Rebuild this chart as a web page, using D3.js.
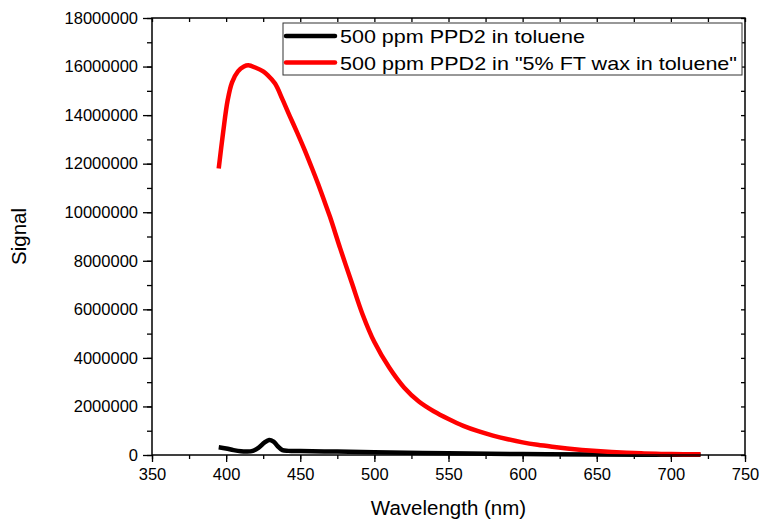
<!DOCTYPE html>
<html>
<head>
<meta charset="utf-8">
<script src="https://cdn.jsdelivr.net/npm/d3@7"></script>
<style>
  body { margin: 0; background: #fff; }
  svg { display: block; font-family: Arial, "Liberation Sans", sans-serif; }
</style>
</head>
<body>
<div id="chart"></div>
<script>
// Wavelength (nm) and signal values
const redWavelength = [395, 398, 401, 404, 408, 412, 415, 420, 425, 428, 433, 438, 443, 448, 453, 458, 462, 466, 470, 477, 485, 492, 500, 510, 520, 530, 540, 550, 560, 570, 580, 590, 600, 610, 620, 630, 640, 650, 660, 670, 680, 690, 700, 710, 720];
const redSignal = [11.8e6, 13.3e6, 14.6e6, 15.35e6, 15.8e6, 16.0e6, 16.05e6, 15.95e6, 15.8e6, 15.65e6, 15.3e6, 14.65e6, 13.95e6, 13.27e6, 12.56e6, 11.8e6, 11.17e6, 10.5e6, 9.82e6, 8.5e6, 7.05e6, 5.8e6, 4.65e6, 3.6e6, 2.78e6, 2.2e6, 1.8e6, 1.48e6, 1.2e6, 0.98e6, 0.8e6, 0.65e6, 0.52e6, 0.42e6, 0.34e6, 0.27e6, 0.21e6, 0.16e6, 0.12e6, 0.09e6, 0.07e6, 0.05e6, 0.04e6, 0.03e6, 0.03e6];

const blackWavelength = [395, 400, 405, 410, 414, 418, 422, 426, 429, 432, 435, 438, 442, 450, 475, 500, 550, 600, 650, 720];
const blackSignal = [0.32e6, 0.27e6, 0.2e6, 0.15e6, 0.14e6, 0.17e6, 0.3e6, 0.52e6, 0.62e6, 0.55e6, 0.35e6, 0.2e6, 0.17e6, 0.16e6, 0.14e6, 0.11e6, 0.07e6, 0.04e6, 0.02e6, 0.01e6];

const seriesNames = ['500 ppm PPD2 in toluene', '500 ppm PPD2 in "5% FT wax in toluene"'];
const seriesColors = ['#000000', '#ff0000'];

const xMajor = d3.range(350, 751, 50);
const xMinor = d3.range(350, 751, 25);
const yMajor = d3.range(0, 18000001, 2000000);
const yMinor = d3.range(0, 18000001, 1000000);

const width = 760, height = 523;
const margin = { top: 18, right: 15, bottom: 68, left: 152 };

const svg = d3.select('#chart').append('svg')
  .attr('width', width)
  .attr('height', height);

const x = d3.scaleLinear().domain([350, 750]).range([margin.left, width - margin.right]);
const y = d3.scaleLinear().domain([0, 18000000]).range([height - margin.bottom, margin.top]);

const x0 = margin.left, x1 = width - margin.right;
const y0 = height - margin.bottom, y1 = margin.top;

// lines
const toPoints = (xs, ys) => xs.map((d, i) => ({ w: d, s: ys[i] }));
const line = d3.line().x(d => x(d.w)).y(d => y(d.s)).curve(d3.curveCatmullRom.alpha(0.5));

svg.append('path')
  .datum(toPoints(blackWavelength, blackSignal))
  .attr('fill', 'none')
  .attr('stroke', seriesColors[0])
  .attr('stroke-width', 4.5)
  .attr('stroke-linejoin', 'round')
  .attr('d', line);

svg.append('path')
  .datum(toPoints(redWavelength, redSignal))
  .attr('fill', 'none')
  .attr('stroke', seriesColors[1])
  .attr('stroke-width', 4.5)
  .attr('stroke-linejoin', 'round')
  .attr('d', line);

// axes
const styleAxis = g => {
  g.select('.domain').remove();
  g.selectAll('.tick line').attr('stroke', '#000').attr('stroke-width', 1.3);
  g.selectAll('text').attr('fill', '#000').attr('font-size', 16.5)
    .attr('font-family', 'Arial, "Liberation Sans", sans-serif');
};

svg.append('g').attr('transform', `translate(0,${y0})`)
  .call(d3.axisBottom(x).tickValues(xMinor).tickSize(4).tickFormat(''))
  .call(styleAxis);
svg.append('g').attr('transform', `translate(0,${y0})`)
  .call(d3.axisBottom(x).tickValues(xMajor).tickSize(7).tickPadding(6).tickFormat(d3.format('d')))
  .call(styleAxis);

svg.append('g').attr('transform', `translate(${x0},0)`)
  .call(d3.axisLeft(y).tickValues(yMinor).tickSize(5).tickFormat(''))
  .call(styleAxis);
svg.append('g').attr('transform', `translate(${x0},0)`)
  .call(d3.axisLeft(y).tickValues(yMajor).tickSize(9).tickPadding(5).tickFormat(d3.format('d')))
  .call(styleAxis);

// top and right: inward ticks
svg.append('g').attr('transform', `translate(0,${y1})`)
  .call(d3.axisBottom(x).tickValues(xMinor).tickSize(4).tickFormat(''))
  .call(styleAxis);
svg.append('g').attr('transform', `translate(${x1},0)`)
  .call(d3.axisLeft(y).tickValues(yMinor).tickSize(4).tickFormat(''))
  .call(styleAxis);

// frame
svg.append('rect')
  .attr('x', x0).attr('y', y1)
  .attr('width', x1 - x0).attr('height', y0 - y1)
  .attr('fill', 'none')
  .attr('stroke', '#000')
  .attr('stroke-width', 1.5);

// axis titles
svg.append('text')
  .attr('x', (x0 + x1) / 2)
  .attr('y', 515)
  .attr('text-anchor', 'middle')
  .attr('font-size', 20.5)
  .text('Wavelength (nm)');

svg.append('text')
  .attr('transform', `translate(26,${(y0 + y1) / 2}) rotate(-90)`)
  .attr('text-anchor', 'middle')
  .attr('font-size', 20.5)
  .text('Signal');

// legend
const legend = svg.append('g');
legend.append('rect')
  .attr('x', 283).attr('y', 23)
  .attr('width', 459).attr('height', 52)
  .attr('fill', '#fff')
  .attr('stroke', '#333')
  .attr('stroke-width', 1);

const legendWidths = [245, 397];
seriesNames.forEach((name, i) => {
  const ly = 36 + i * 26.5;
  legend.append('line')
    .attr('x1', 286).attr('x2', 335)
    .attr('y1', ly).attr('y2', ly)
    .attr('stroke', seriesColors[i])
    .attr('stroke-width', 4.5)
    .attr('stroke-linecap', 'round');
  legend.append('text')
    .attr('x', 340)
    .attr('y', ly + 7)
    .attr('font-size', 19)
    .attr('textLength', legendWidths[i])
    .attr('lengthAdjust', 'spacingAndGlyphs')
    .text(name);
});
</script>
</body>
</html>
